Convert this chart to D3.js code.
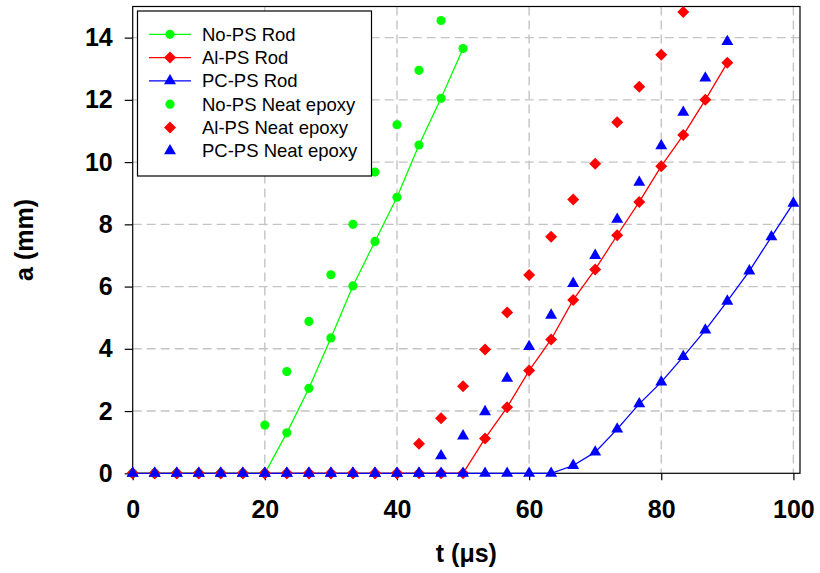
<!DOCTYPE html>
<html>
<head>
<meta charset="utf-8">
<script src="https://d3js.org/d3.v7.min.js"></script>
<style>
  body { margin: 0; background: #fff; }
  text { font-family: "Liberation Sans", Arial, sans-serif; }
</style>
</head>
<body>
<script>
// sample times (us), one every 10/3 us
var tValues = [0, 3.33, 6.67, 10, 13.33, 16.67, 20, 23.33, 26.67, 30, 33.33, 36.67, 40,
  43.33, 46.67, 50, 53.33, 56.67, 60, 63.33, 66.67, 70, 73.33, 76.67, 80, 83.33, 86.67,
  90, 93.33, 96.67, 100];

// crack length a (mm), aligned with tValues
var noPsRod = [0, 0, 0, 0, 0, 0, 0, 1.3, 2.73, 4.35, 6.02, 7.45, 8.87, 10.55, 12.05, 13.65];
var alPsRod = [0, 0, 0, 0, 0, 0, 0, 0, 0, 0, 0, 0, 0, 0, 0, 0,
  1.12, 2.12, 3.3, 4.3, 5.57, 6.55, 7.65, 8.72, 9.87, 10.87, 12.0, 13.19];
var pcPsRod = [0, 0, 0, 0, 0, 0, 0, 0, 0, 0, 0, 0, 0, 0, 0, 0, 0, 0, 0, 0,
  0.25, 0.68, 1.42, 2.23, 2.93, 3.75, 4.6, 5.53, 6.5, 7.6, 8.68];
var noPsEpoxy = [0, 0, 0, 0, 0, 0, 1.55, 3.27, 4.88, 6.38, 8.0, 9.68, 11.2, 12.95, 14.55];
var alPsEpoxy = [0, 0, 0, 0, 0, 0, 0, 0, 0, 0, 0, 0, 0,
  0.95, 1.77, 2.8, 3.98, 5.17, 6.37, 7.6, 8.8, 9.95, 11.28, 12.42, 13.45, 14.82];
var pcPsEpoxy = [0, 0, 0, 0, 0, 0, 0, 0, 0, 0, 0, 0, 0, 0,
  0.56, 1.2, 1.98, 3.05, 4.07, 5.08, 6.1, 7.0, 8.16, 9.35, 10.52, 11.6, 12.7, 13.87];

var xTicks = [0, 20, 40, 60, 80, 100];
var yTicks = [0, 2, 4, 6, 8, 10, 12, 14];

var series = [
  {name: "No-PS Rod", values: noPsRod, color: "#00ff00", shape: "circle", line: true},
  {name: "Al-PS Rod", values: alPsRod, color: "#ff0000", shape: "diamond", line: true},
  {name: "PC-PS Rod", values: pcPsRod, color: "#0000ff", shape: "triangle", line: true},
  {name: "No-PS Neat epoxy", values: noPsEpoxy, color: "#00ff00", shape: "circle", line: false},
  {name: "Al-PS Neat epoxy", values: alPsEpoxy, color: "#ff0000", shape: "diamond", line: false},
  {name: "PC-PS Neat epoxy", values: pcPsEpoxy, color: "#0000ff", shape: "triangle", line: false}
];

var width = 820, height = 573;
var pLeft = 132.7, pRight = 800, pTop = 6.5, pBottom = 473.3;

var svg = d3.select("body").append("svg")
  .attr("width", width)
  .attr("height", height);

var x = d3.scaleLinear().domain([0, 101]).range([pLeft, pRight]);
var y = d3.scaleLinear().domain([0, 15]).range([pBottom, pTop]);

// dashed grid
svg.append("g").selectAll("line")
  .data(yTicks.filter(function(d) { return d > 0; }))
  .enter().append("line")
    .attr("x1", pLeft).attr("x2", pRight)
    .attr("y1", function(d) { return y(d); })
    .attr("y2", function(d) { return y(d); })
    .attr("stroke", "#c4c4c4").attr("stroke-width", 1.4)
    .attr("stroke-dasharray", "9,5");

svg.append("g").selectAll("line")
  .data(xTicks.filter(function(d) { return d > 0; }))
  .enter().append("line")
    .attr("y1", pTop).attr("y2", pBottom)
    .attr("x1", function(d) { return x(d); })
    .attr("x2", function(d) { return x(d); })
    .attr("stroke", "#c4c4c4").attr("stroke-width", 1.4)
    .attr("stroke-dasharray", "9,5");

// frame
svg.append("rect")
  .attr("x", pLeft).attr("y", pTop)
  .attr("width", pRight - pLeft).attr("height", pBottom - pTop)
  .attr("fill", "none").attr("stroke", "#000").attr("stroke-width", 1.2);

// axes
var xAxis = d3.axisBottom(x).tickValues(xTicks).tickSize(7).tickPadding(20);
var yAxis = d3.axisLeft(y).tickValues(yTicks).tickSize(8).tickPadding(12);

var gx = svg.append("g").attr("transform", "translate(0," + pBottom + ")").call(xAxis);
var gy = svg.append("g").attr("transform", "translate(" + pLeft + ",0)").call(yAxis);
[gx, gy].forEach(function(g) {
  g.select(".domain").remove();
  g.selectAll(".tick line").attr("stroke", "#000").attr("stroke-width", 1.2);
  g.selectAll(".tick text")
    .attr("fill", "#000")
    .style("font-family", "'Liberation Sans', Arial, sans-serif")
    .style("font-size", "25px")
    .style("font-weight", "bold");
});

// axis titles
svg.append("text")
  .attr("x", (pLeft + pRight) / 2).attr("y", 562)
  .attr("text-anchor", "middle")
  .style("font-size", "25px").style("font-weight", "bold")
  .text("t (\u03bcs)");

svg.append("text")
  .attr("transform", "translate(33," + (pTop + pBottom) / 2 + ") rotate(-90)")
  .attr("text-anchor", "middle")
  .style("font-size", "25px").style("font-weight", "bold")
  .text("a (mm)");

function symbolPath(shape) {
  if (shape === "circle") return d3.symbol().type(d3.symbolCircle).size(66)();
  if (shape === "diamond") return d3.symbol().type(d3.symbolSquare).size(72)();
  return d3.symbol().type(d3.symbolTriangle).size(62)();
}
function symbolRotate(shape) {
  return shape === "diamond" ? " rotate(45)" : "";
}

var line = d3.line()
  .x(function(d) { return x(d.t); })
  .y(function(d) { return y(d.a); });

series.forEach(function(s) {
  var pts = s.values.map(function(a, i) { return {t: tValues[i], a: a}; });
  var g = svg.append("g");
  if (s.line) {
    g.append("path")
      .datum(pts)
      .attr("d", line)
      .attr("fill", "none")
      .attr("stroke", s.color)
      .attr("stroke-width", 1.3);
  }
  g.selectAll("path.mark")
    .data(pts)
    .enter().append("path")
      .attr("class", "mark")
      .attr("d", symbolPath(s.shape))
      .attr("transform", function(d) {
        return "translate(" + x(d.t) + "," + y(d.a) + ")" + symbolRotate(s.shape);
      })
      .attr("fill", s.color);
});

// legend
var lg = svg.append("g");
lg.append("rect")
  .attr("x", 137.5).attr("y", 11)
  .attr("width", 234).attr("height", 165)
  .attr("fill", "#fff").attr("stroke", "#000").attr("stroke-width", 1.2);

series.forEach(function(s, i) {
  var cy = 34.3 + i * 23.3;
  if (s.line) {
    lg.append("line")
      .attr("x1", 149).attr("x2", 191)
      .attr("y1", cy).attr("y2", cy)
      .attr("stroke", s.color).attr("stroke-width", 1.3);
  }
  lg.append("path")
    .attr("d", symbolPath(s.shape))
    .attr("transform", "translate(170," + cy + ")" + symbolRotate(s.shape))
    .attr("fill", s.color);
  lg.append("text")
    .attr("x", 202).attr("y", cy + 6.5)
    .style("font-size", "18.5px")
    .attr("fill", "#000")
    .text(s.name);
});
</script>
</body>
</html>
